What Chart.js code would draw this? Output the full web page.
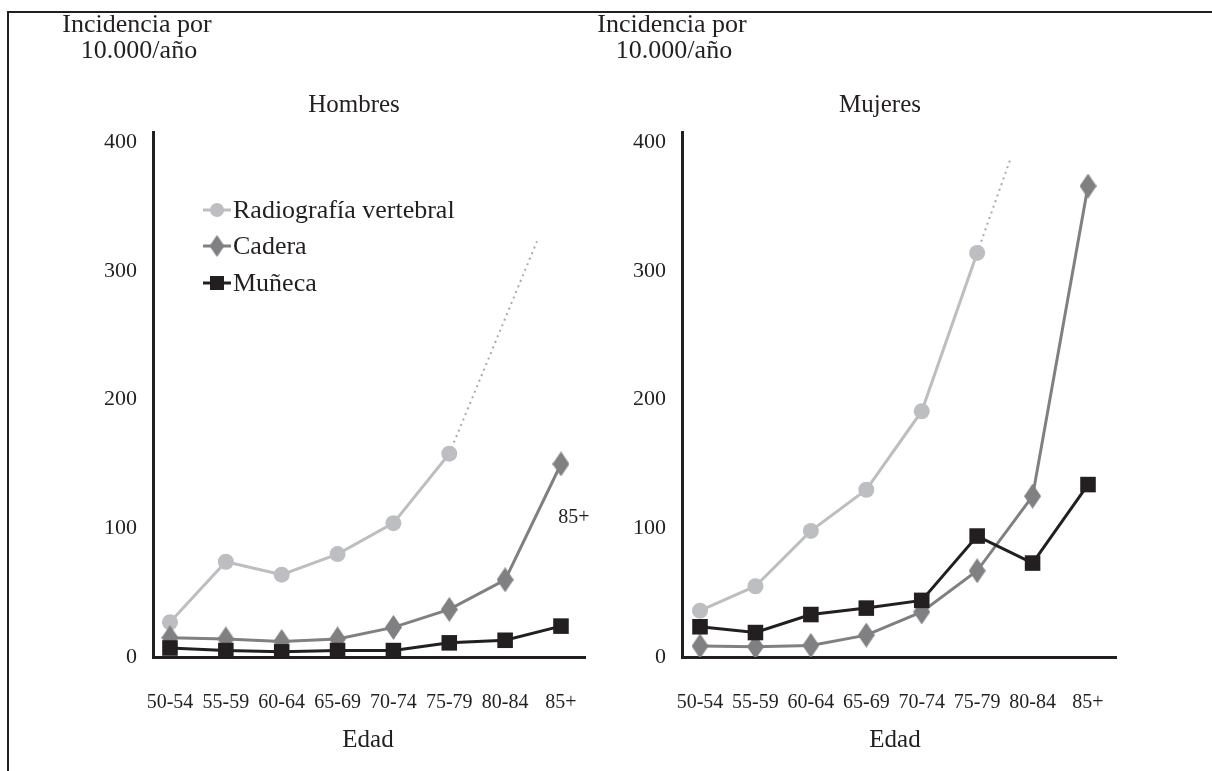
<!DOCTYPE html>
<html>
<head>
<meta charset="utf-8">
<script src="https://cdn.jsdelivr.net/npm/chart.js@4/dist/chart.umd.min.js"></script>
<style>
  html, body { margin:0; padding:0; background:#fff; }
  #wrap { position:relative; width:1212px; height:771px; overflow:hidden; font-family:'Liberation Serif', serif; color:#231f20; }
  #frame { position:absolute; left:7px; top:11px; width:1210px; height:770px; border-top:2.5px solid #231f20; border-left:2.5px solid #231f20; }
  canvas { position:absolute; top:0; }
  .lbl { position:absolute; transform:translate(-50%,-50%); white-space:nowrap; font-size:25px; line-height:1; }
  .big { font-size:26px; }
  .small { font-size:20px; }
</style>
</head>
<body>
<div id="wrap">
  <div id="frame"></div>
  <canvas id="c1" width="620" height="771" style="left:0"></canvas>
  <canvas id="c2" width="606" height="771" style="left:606px"></canvas>
  <div class="lbl big" style="left:137px; top:24px;">Incidencia por</div>
  <div class="lbl big" style="left:139px; top:50px;">10.000/año</div>
  <div class="lbl" style="left:354px; top:103px;">Hombres</div>
  <div class="lbl big" style="left:672px; top:24px;">Incidencia por</div>
  <div class="lbl big" style="left:674px; top:50px;">10.000/año</div>
  <div class="lbl" style="left:880px; top:103px;">Mujeres</div>
  <div class="lbl" style="left:368px; top:738px;">Edad</div>
  <div class="lbl" style="left:895px; top:738px;">Edad</div>
  <div class="lbl small" style="left:574px; top:516px;">85+</div>
</div>
<script>
// ---- data ----
const ageGroups = ['50-54','55-59','60-64','65-69','70-74','75-79','80-84','85+'];
const yTicks = [0, 100, 200, 300, 400];

const menVertebral = [27, 74, 64, 80, 104, 158];
const menVertebralTrendX = [5, 6.57];
const menVertebralTrendY = [158, 323];
const menHip = [15, 14, 12, 14, 23, 37, 60, 150];
const menWrist = [7, 5, 4, 5, 5, 11, 13, 24];

const womenVertebral = [36, 55, 98, 130, 191, 314];
const womenVertebralTrendX = [5, 5.6];
const womenVertebralTrendY = [314, 387];
const womenHip = [8.5, 8, 9, 17, 35, 67, 125, 366];
const womenWrist = [23.5, 19, 33, 38, 44, 94, 73, 134];

const legendLabels = ['Radiografía vertebral', 'Cadera', 'Muñeca'];

// ---- styles ----
const INK = '#231f20';
const C_VERT = '#bdbec1';
const C_HIP = '#808083';
const C_WRIST = '#231f20';
const FONT = "'Liberation Serif', serif";

Chart.defaults.font.family = FONT;
Chart.defaults.color = INK;

function diamondImage(w, h, color) {
  const c = document.createElement('canvas');
  c.width = w; c.height = h;
  const g = c.getContext('2d');
  g.fillStyle = color;
  g.beginPath();
  g.moveTo(w/2, 0); g.lineTo(w, h/2); g.lineTo(w/2, h); g.lineTo(0, h/2);
  g.closePath(); g.fill();
  return c;
}
const diamond = diamondImage(17, 25, C_HIP);
const diamondSmall = diamondImage(15, 22, C_HIP);

const toXY = arr => arr.map((v, i) => ({x: i, y: v}));
const pairXY = (xs, ys) => xs.map((x, i) => ({x: x, y: ys[i]}));

function datasets(vert, trendX, trendY, hip, wrist) {
  return [
    { data: pairXY(trendX, trendY), borderColor: '#a9aaad', borderWidth: 2, borderDash: [2, 4], pointRadius: 0, fill: false, order: 4 },
    { data: toXY(vert), borderColor: C_VERT, backgroundColor: C_VERT, borderWidth: 3, pointStyle: 'circle', pointRadius: 8, pointBorderWidth: 0, order: 3 },
    { data: toXY(hip), borderColor: C_HIP, backgroundColor: C_HIP, borderWidth: 3, pointStyle: diamond, pointRadius: 10, order: 2 },
    { data: toXY(wrist), borderColor: C_WRIST, backgroundColor: C_WRIST, borderWidth: 3, pointStyle: 'rect', pointRadius: 11, pointBorderWidth: 0, order: 1 }
  ];
}

const legendPlugin = {
  id: 'inlineLegend',
  afterDraw(chart) {
    const ctx = chart.ctx;
    const items = [
      { y: 210, color: C_VERT, kind: 'circle' },
      { y: 246, color: C_HIP, kind: 'diamond' },
      { y: 283, color: C_WRIST, kind: 'square' }
    ];
    ctx.save();
    items.forEach((it, i) => {
      ctx.strokeStyle = it.color;
      ctx.lineWidth = 3;
      ctx.beginPath(); ctx.moveTo(203, it.y); ctx.lineTo(231, it.y); ctx.stroke();
      ctx.fillStyle = it.color;
      if (it.kind === 'circle') {
        ctx.beginPath(); ctx.arc(217, it.y, 7, 0, Math.PI * 2); ctx.fill();
      } else if (it.kind === 'diamond') {
        ctx.drawImage(diamondSmall, 217 - 7.5, it.y - 11);
      } else {
        ctx.fillRect(217 - 7, it.y - 7, 14, 14);
      }
      ctx.fillStyle = INK;
      ctx.font = '26px ' + FONT;
      ctx.textAlign = 'left';
      ctx.textBaseline = 'middle';
      ctx.fillText(legendLabels[i], 233, it.y + 1);
    });
    ctx.restore();
  }
};

function makeChart(id, ds, xmin, xmax, yAxisWidth, pad, plugins) {
  return new Chart(document.getElementById(id), {
    type: 'line',
    data: { datasets: ds },
    plugins: plugins,
    options: {
      responsive: false,
      animation: false,
      devicePixelRatio: 1,
      layout: { padding: pad },
      plugins: { legend: { display: false }, tooltip: { enabled: false } },
      elements: { line: { tension: 0 } },
      scales: {
        x: {
          type: 'linear', min: xmin, max: xmax,
          grid: { display: false, drawTicks: false },
          border: { display: true, color: INK, width: 3 },
          afterBuildTicks: s => { s.ticks = ageGroups.map((_, i) => ({ value: i })); },
          afterFit: s => { s.height = 80; },
          ticks: { autoSkip: false, maxRotation: 0, padding: 34, font: { size: 20 }, color: INK,
                   callback: v => ageGroups[v] }
        },
        y: {
          min: 0, max: 408,
          grid: { display: false, drawTicks: false },
          border: { display: true, color: INK, width: 3 },
          afterBuildTicks: s => { s.ticks = yTicks.map(v => ({ value: v })); },
          afterFit: s => { s.width = yAxisWidth; },
          ticks: { padding: 16, font: { size: 22 }, color: INK }
        }
      }
    }
  });
}

makeChart('c1', datasets(menVertebral, menVertebralTrendX, menVertebralTrendY, menHip, menWrist),
  -0.304, 7.43, 100, { left: 53, right: 35, top: 132, bottom: 34 }, [legendPlugin]);
makeChart('c2', datasets(womenVertebral, womenVertebralTrendX, womenVertebralTrendY, womenHip, womenWrist),
  -0.325, 7.505, 70, { left: 6, right: 96, top: 132, bottom: 34 }, []);
</script>
</body>
</html>
